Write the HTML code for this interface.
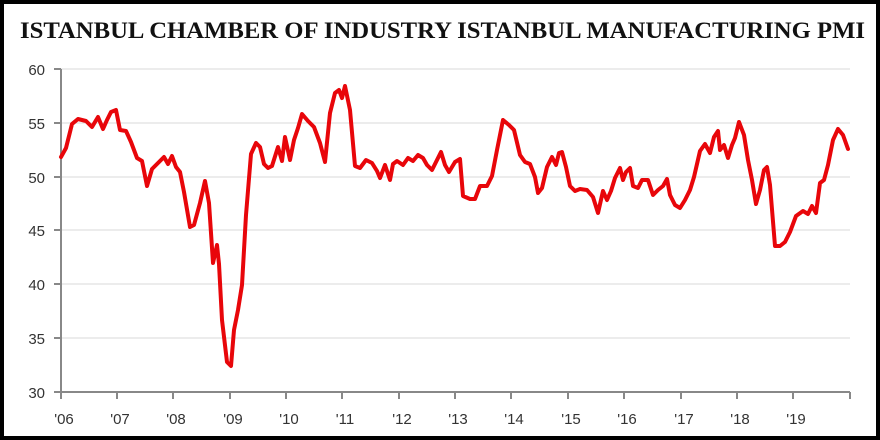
<!DOCTYPE html>
<html><head><style>
html,body{margin:0;padding:0;background:#000;}
#c{position:absolute;left:4px;top:4px;width:872px;height:432px;background:#fff;}
</style></head><body>
<div id="c"></div>
<svg width="880" height="440" style="position:absolute;left:0;top:0" xmlns="http://www.w3.org/2000/svg">
<text x="20" y="38" textLength="845" lengthAdjust="spacingAndGlyphs" font-family="Liberation Serif,serif" font-weight="bold" font-size="23" fill="#111">ISTANBUL CHAMBER OF INDUSTRY ISTANBUL MANUFACTURING PMI</text>
<g stroke="#d9d9d9" stroke-width="1">
<line x1="61" y1="69" x2="850" y2="69"/><line x1="61" y1="123" x2="850" y2="123"/><line x1="61" y1="177" x2="850" y2="177"/><line x1="61" y1="230" x2="850" y2="230"/><line x1="61" y1="284" x2="850" y2="284"/><line x1="61" y1="338" x2="850" y2="338"/>
</g>
<g stroke="#888" stroke-width="2">
<line x1="61" y1="69" x2="61" y2="392"/><line x1="54" y1="392" x2="850" y2="392"/>
<line x1="54" y1="69" x2="61" y2="69"/><line x1="54" y1="123" x2="61" y2="123"/><line x1="54" y1="177" x2="61" y2="177"/><line x1="54" y1="230" x2="61" y2="230"/><line x1="54" y1="284" x2="61" y2="284"/><line x1="54" y1="338" x2="61" y2="338"/>
<line x1="61" y1="392" x2="61" y2="399"/><line x1="117" y1="392" x2="117" y2="399"/><line x1="173" y1="392" x2="173" y2="399"/><line x1="230" y1="392" x2="230" y2="399"/><line x1="286" y1="392" x2="286" y2="399"/><line x1="342" y1="392" x2="342" y2="399"/><line x1="399" y1="392" x2="399" y2="399"/><line x1="455" y1="392" x2="455" y2="399"/><line x1="511" y1="392" x2="511" y2="399"/><line x1="568" y1="392" x2="568" y2="399"/><line x1="624" y1="392" x2="624" y2="399"/><line x1="681" y1="392" x2="681" y2="399"/><line x1="737" y1="392" x2="737" y2="399"/><line x1="793" y1="392" x2="793" y2="399"/><line x1="850" y1="392" x2="850" y2="399"/>
</g>
<g font-family="Liberation Sans,sans-serif" font-size="15" fill="#333" text-anchor="end">
<text x="45" y="75">60</text><text x="45" y="129">55</text><text x="45" y="183">50</text><text x="45" y="236">45</text><text x="45" y="290">40</text><text x="45" y="344">35</text><text x="45" y="398">30</text>
</g>
<g font-family="Liberation Sans,sans-serif" font-size="15" fill="#333" text-anchor="middle">
<text x="64" y="424">'06</text><text x="120" y="424">'07</text><text x="176" y="424">'08</text><text x="233" y="424">'09</text><text x="289" y="424">'10</text><text x="345" y="424">'11</text><text x="402" y="424">'12</text><text x="458" y="424">'13</text><text x="514" y="424">'14</text><text x="571" y="424">'15</text><text x="627" y="424">'16</text><text x="684" y="424">'17</text><text x="740" y="424">'18</text><text x="796" y="424">'19</text>
</g>
<polyline fill="none" stroke="#e8060a" stroke-width="4" stroke-linejoin="round" stroke-linecap="round" points="61,157 66,148 72,124 78,119 86,121 92,127 98,117 103,129 107,120 111,112 116,110 120,130 126,131 131,142 137,158 142,161 147,186 152,169 158,163 164,157 168,164 172,156 176,167 180,172 184,192 190,227 194,225 200,203 205,181 209,203 213,263 217,245 219,264 222,320 227,362 231,366 234,330 238,310 242,285 246,215 251,154 256,143 260,147 264,164 268,168 272,166 278,147 282,161 285,137 290,160 294,140 298,128 302,114 308,121 314,127 320,143 325,162 330,113 335,93 339,90 342,98 345,86 350,110 355,166 360,168 366,160 372,163 377,171 380,178 385,165 390,180 393,164 397,161 403,165 408,158 413,161 418,155 423,158 427,165 432,170 437,160 441,152 445,165 449,172 455,162 460,159 463,196 470,199 475,199 480,186 487,186 492,176 497,150 503,120 509,125 514,130 520,155 525,162 530,164 535,177 538,193 542,188 547,167 552,157 556,165 559,153 562,152 566,167 570,186 575,191 580,189 587,190 593,197 598,213 603,191 607,200 611,191 615,178 620,168 623,180 626,172 630,168 633,186 638,188 642,180 648,180 653,195 658,190 663,186 667,179 670,195 675,205 680,208 685,200 690,190 694,177 700,151 705,144 710,153 714,137 718,131 720,150 724,145 728,158 732,145 735,138 739,122 744,135 748,160 752,180 756,204 760,190 764,170 767,167 770,185 775,246 780,246 785,242 790,232 796,216 803,211 808,214 812,206 816,213 820,183 824,180 828,165 833,140 838,129 843,135 848,149"/>
</svg>
</body></html>
